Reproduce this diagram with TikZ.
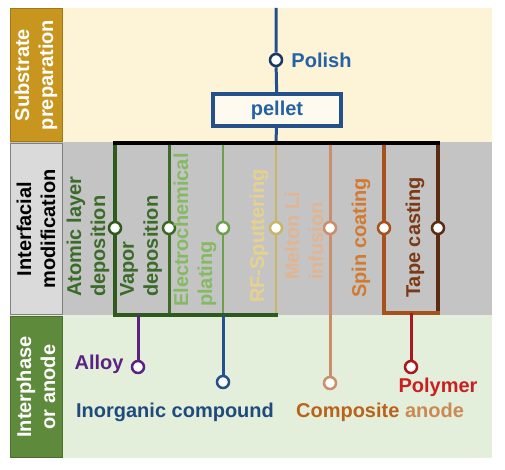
\documentclass[tikz,border=0pt]{standalone}
\usepackage{fontspec}
\setmainfont{Liberation Sans}
\usetikzlibrary{positioning}
% band and box colours
\definecolor{topbg}{HTML}{FDF3D6}
\definecolor{goldbox}{HTML}{C8961E}
\definecolor{midbg}{HTML}{C4C4C4}
\definecolor{midbox}{HTML}{DADADA}
\definecolor{botbg}{HTML}{E3EFDB}
\definecolor{greenbox}{HTML}{5E8B3B}
% line colours
\definecolor{mainblue}{HTML}{24508C}
\definecolor{txtblue}{HTML}{2462A6}
\definecolor{ca}{HTML}{2E5A1E}
\definecolor{cb}{HTML}{3D6B27}
\definecolor{cc}{HTML}{6E9E50}
\definecolor{cd}{HTML}{C9B468}
\definecolor{ce}{HTML}{C98E6A}
\definecolor{cf}{HTML}{A5521E}
\definecolor{cg}{HTML}{5C2C12}
\definecolor{purp}{HTML}{5A2382}
\definecolor{darkred}{HTML}{A8181C}
% text colours
\definecolor{tgreen}{HTML}{3B6B2A}
\definecolor{tlgreen}{HTML}{86B964}
\definecolor{tyellow}{HTML}{E6D28C}
\definecolor{ttan}{HTML}{E2B592}
\definecolor{torange}{HTML}{D27A32}
\definecolor{tbrown}{HTML}{7B3A15}
\definecolor{tinorg}{HTML}{1F4B7C}
\definecolor{tpoly}{HTML}{C9201F}
\definecolor{tcomp}{HTML}{B9621C}
\tikzset{
	bigfont/.style={font=\fontsize{20}{24}\selectfont\bfseries},
	sidebox/.style={bigfont,rotate=90,inner sep=0pt,align=center,
		minimum height=52pt,line width=1pt},
	dot/.style={circle,draw=#1,fill=white,line width=2.5pt,inner sep=0pt,
		minimum size=12pt},
	method/.style={bigfont,rotate=90,anchor=west,align=left,inner sep=0pt},
	lbl/.style={bigfont,inner sep=0pt}
}
\begin{document}
\begin{tikzpicture}[x=1pt,y=-1pt]
	\useasboundingbox (0,0) rectangle (505,470);
	% bands
	\fill[topbg] (10,8) rectangle (492,142);
	\fill[midbg] (10,142) rectangle (492,315);
	\fill[botbg] (10,315) rectangle (492,458);
	\node[sidebox,fill=goldbox,draw=goldbox!80!black,text=white,
	minimum width=133pt] (sub) at (36,75) {Substrate\\preparation};
	\node[sidebox,fill=midbox,draw=gray,text=black,
	minimum width=171pt] (int) at (36,229) {Interfacial\\modification};
	\node[sidebox,fill=greenbox,draw=greenbox!80!black,text=white,
	minimum width=141pt] (inph) at (36,387) {Interphase\\or anode};
	% substrate preparation
	\coordinate (top) at (276,8);
	\coordinate (hub) at (276,143);
	\node[dot=mainblue!70!black] (polish) at (276,60) {};
	\node[lbl,text=txtblue,right=8pt of polish] (polishtxt) {Polish};
	\node[lbl,text=txtblue,draw=mainblue,line width=3.5pt,fill=white!60!topbg,
	minimum width=128pt,minimum height=32pt] (pellet) at (277,110) {pellet};
	\draw[mainblue,line width=3pt] (top) -- (polish) -- (pellet) -- (hub);
	% interfacial modification
	\foreach \i/\x/\col/\w/\yb in {1/115/ca/4/315,2/169/cb/3/315,3/223/cc/2.5/315,
	4/276/cd/2.5/315,5/330/ce/3/383,6/384/cf/3.5/313,7/438/cg/3.5/313}
	{
		\coordinate (t\i) at (\x,143);
		\coordinate (b\i) at (\x,\yb);
		\node[dot=\col] (d\i) at (\x,228) {};
		\draw[\col,line width=\w pt] (t\i) -- (d\i) -- (b\i);
	}
	\draw[line width=3.5pt,line cap=rect] (t1) -- (t7);
	\draw[ca,line width=4pt,line cap=rect] (b1) -- (b4);
	\draw[cf,line width=3.5pt,line cap=rect] (b6) -- (b7);
	\node[method,text=tgreen] (ald) at (88,297) {Atomic layer\\deposition};
	\node[method,text=tgreen] (vap) at (141,297) {Vapor\\deposition};
	\node[method,text=tlgreen] (ecp) at (195,307) {Electrochemical\\plating};
	\node[method,text=tyellow] (rfs) at (259,303) {RF-Sputtering};
	\node[method,text=ttan] (mli) at (304,280) {Melton Li\\infusion};
	\node[method,text=torange] (spin) at (361,298) {Spin coating};
	\node[method,text=tbrown] (tape) at (415,298) {Tape casting};
	% interphase or anode
	\coordinate (ba) at (138,315);
	\coordinate (bi) at (223,315);
	\coordinate (bp) at (411,313);
	\node[dot=purp] (alloy) at (138,367) {};
	\node[dot=mainblue] (inorg) at (223,382) {};
	\node[dot=ce] (comp) at (330,383) {};
	\node[dot=darkred] (poly) at (411,367) {};
	\draw[purp,line width=3pt] (ba) -- (alloy);
	\draw[mainblue,line width=3pt] (bi) -- (inorg);
	\draw[ce,line width=3pt] (b5) -- (comp);
	\draw[darkred,line width=3pt] (bp) -- (poly);
	\node[lbl,text=purp,left=7pt of alloy,yshift=3pt] (alloytxt) {Alloy};
	\node[lbl,text=tinorg] (inorgtxt) at (175,412) {Inorganic compound};
	\node[lbl,text=tpoly] (polytxt) at (438,387) {Polymer};
	\node[lbl,text=tcomp] (comptxt) at (380,412)
	{Composite \textcolor{tcomp!75!white}{anode}};
\end{tikzpicture}
\end{document}
